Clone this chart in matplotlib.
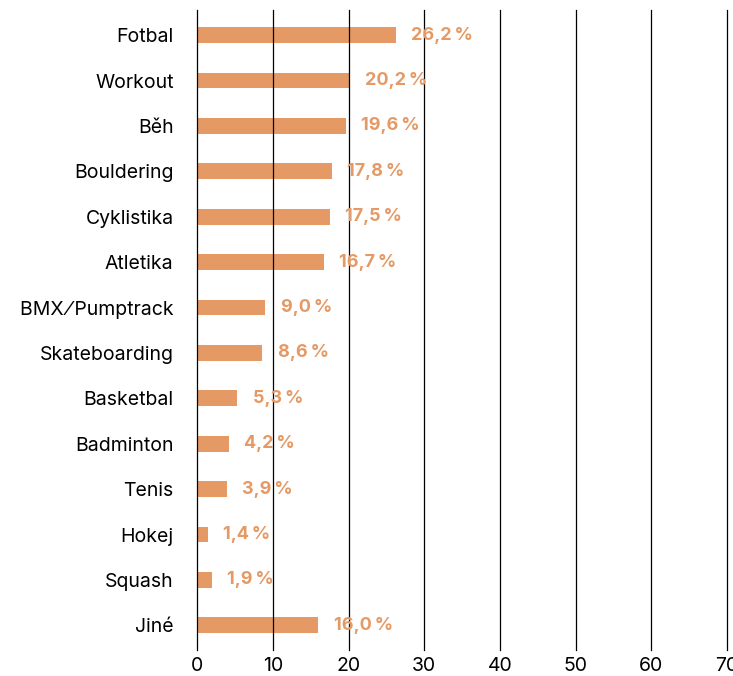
import matplotlib
matplotlib.use("Agg")
import matplotlib.pyplot as plt

plt.rcParams['font.family'] = ['Inter', 'DejaVu Sans']

# data
sports = ["Fotbal", "Workout", "Běh", "Bouldering", "Cyklistika", "Atletika",
          "BMX\u2009\u2044\u2009Pumptrack", "Skateboarding", "Basketbal", "Badminton",
          "Tenis", "Hokej", "Squash", "Jiné"]
shares = [26.2, 20.2, 19.6, 17.8, 17.5, 16.7, 9.0, 8.6, 5.3, 4.2, 3.9, 1.4, 1.9, 16.0]
xticks = [0, 10, 20, 30, 40, 50, 60, 70]

bar_color = "#E59A66"

fig = plt.figure(figsize=(7.33, 6.76), dpi=100)
ax = fig.add_axes([0.269, 0.038, 0.723, 0.947])

pos = list(range(len(sports)))
ax.barh(pos, shares, height=0.35, color=bar_color, zorder=1)

for p, v in zip(pos, shares):
	lbl = ("%.1f" % v).replace(".", ",") + "\u2009%"
	ax.annotate(lbl, (v, p), xytext=(11, 0), textcoords="offset points",
				va="center", ha="left", color=bar_color, fontsize=13,
				fontweight="bold", zorder=3)

ax.set_xlim(0, 70)
ax.set_ylim(len(sports) - 0.45, -0.55)
ax.set_xticks(xticks)
ax.set_yticks(pos)
ax.set_yticklabels(sports)
ax.tick_params(axis="both", length=0, labelsize=14, colors="black")
ax.tick_params(axis="y", pad=17)
ax.tick_params(axis="x", pad=5)

ax.grid(axis="x", color="black", linewidth=0.9, zorder=2)
for gl in ax.get_xgridlines():
	gl.set_clip_on(False)
ax.set_axisbelow(False)
for s in ax.spines.values():
	s.set_visible(False)

fig.savefig("out.png", dpi=100)
